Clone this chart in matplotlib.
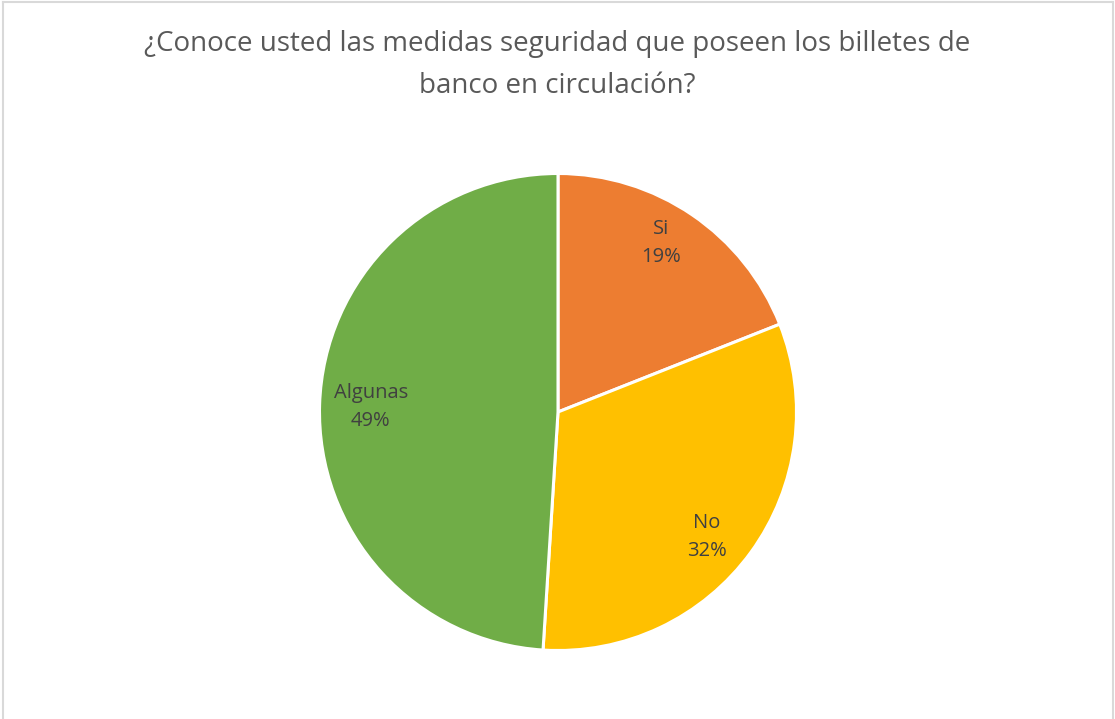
import matplotlib
matplotlib.use("Agg")
import matplotlib.pyplot as plt
from matplotlib.lines import Line2D
import numpy as np

categories = ["Si", "No", "Algunas"]
values = [19, 32, 49]
colors = ["#ED7D31", "#FFC000", "#70AD47"]
title = "¿Conoce usted las medidas seguridad que poseen los billetes de\nbanco en circulación?"

W, H = 1115, 719
fig = plt.figure(figsize=(W / 100, H / 100), dpi=100)
fig.patch.set_facecolor("white")

cx, cy, r = 558, 412, 238.5
ax = fig.add_axes([(cx - r) / W, (H - cy - r) / H, 2 * r / W, 2 * r / H])

it = iter(categories)
wedges, texts, autotexts = ax.pie(
    values, colors=colors, startangle=90, counterclock=False,
    wedgeprops=dict(edgecolor="white", linewidth=2.2),
    autopct=lambda p: f"{next(it)}\n{p:.0f}%", pctdistance=0.81,
    textprops=dict(color="#404040", fontsize=14.5, family="Open Sans", linespacing=1.55),
)
# label placement tweaks (distance from centre, angular offset in degrees)
lab_dist = [0.83, 0.815, 0.785]
lab_off = [2.7, -4.0, 0.3]
for w, t, d, o in zip(wedges, autotexts, lab_dist, lab_off):
    a = np.deg2rad((w.theta1 + w.theta2) / 2 + o)
    t.set_position((d * np.cos(a), d * np.sin(a)))

ax.set_xlim(-1, 1)
ax.set_ylim(-1, 1)
ax.set_aspect("equal")

fig.text(0.5, 1 - 65 / H, title, ha="center", va="center", fontsize=20,
         color="#595959", family="Open Sans", linespacing=1.68)

bc = "#D9D9D9"
fig.add_artist(Line2D([2.5 / W, 2.5 / W], [0, 1 - 1.5 / H], color=bc, lw=1.5, transform=fig.transFigure))
fig.add_artist(Line2D([2.5 / W, 1 - 2.5 / W], [1 - 1.5 / H, 1 - 1.5 / H], color=bc, lw=1.5, transform=fig.transFigure))
fig.add_artist(Line2D([1 - 2.5 / W, 1 - 2.5 / W], [0, 1 - 1.5 / H], color=bc, lw=1.5, transform=fig.transFigure))

fig.savefig("out.png", dpi=100)
